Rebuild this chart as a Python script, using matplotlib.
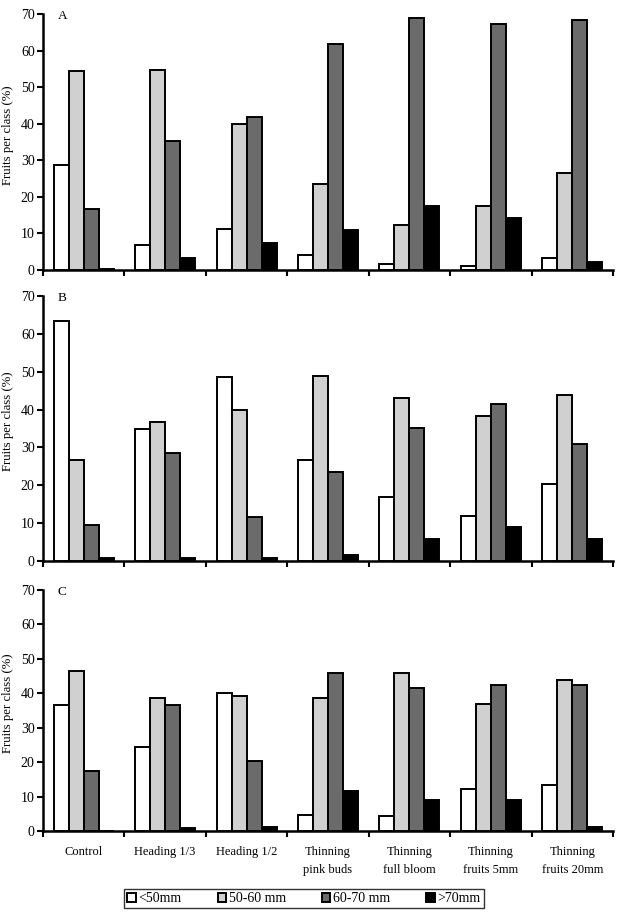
import numpy as np
import matplotlib
matplotlib.use("Agg")
import matplotlib.pyplot as plt
from matplotlib.patches import Patch

plt.rcParams['font.family'] = ['Liberation Serif', 'DejaVu Serif']

treatments = ["Control", "Heading 1/3", "Heading 1/2", "Thinning\npink buds",
              "Thinning\nfull bloom", "Thinning\nfruits 5mm", "Thinning\nfruits 20mm"]
classes = ["<50mm", "50-60 mm", "60-70 mm", ">70mm"]

# fruit percentage per size class, one row per treatment
panel_a = [
    [28.7, 54.5, 16.7, 0.3],
    [6.8, 54.7, 35.3, 3.4],
    [11.3, 39.8, 41.8, 7.3],
    [4.2, 23.5, 61.7, 10.9],
    [1.6, 12.3, 68.8, 17.4],
    [1.2, 17.5, 67.3, 14.2],
    [3.3, 26.4, 68.3, 2.2],
]
panel_b = [
    [63.5, 26.6, 9.5, 0.9],
    [34.9, 36.7, 28.4, 0.8],
    [48.7, 39.9, 11.7, 0.7],
    [26.7, 48.9, 23.6, 1.5],
    [16.8, 43.1, 35.0, 5.8],
    [12.0, 38.3, 41.5, 9.0],
    [20.3, 43.8, 30.8, 5.8],
]
panel_c = [
    [36.6, 46.5, 17.5, 0.0],
    [24.3, 38.6, 36.7, 1.0],
    [40.0, 39.1, 20.4, 1.2],
    [4.6, 38.6, 46.0, 11.5],
    [4.5, 45.8, 41.6, 8.9],
    [12.1, 37.0, 42.5, 9.0],
    [13.4, 43.8, 42.5, 1.1],
]

colors = ["white", "#d0d0d0", "#6b6b6b", "black"]
letters = ["A", "B", "C"]
panels = [panel_a, panel_b, panel_c]

fig = plt.figure(figsize=(6.23, 9.22), dpi=100)
boxes = [
    [0.069, 0.7072, 0.915, 0.2776],
    [0.069, 0.3915, 0.915, 0.2875],
    [0.069, 0.0987, 0.915, 0.2613],
]

bw = 0.184
x = np.arange(len(treatments))
for data, box, letter in zip(panels, boxes, letters):
    ax = fig.add_axes(box)
    data = np.array(data)
    for j in range(4):
        ax.bar(x + 0.5 + (j - 1.5) * bw, data[:, j], width=bw,
               color=colors[j], edgecolor="black", linewidth=1.4, zorder=3)
    ax.set_xlim(0, 7)
    ax.set_ylim(0, 70)
    ax.set_yticks(range(0, 71, 10))
    ax.set_xticks(np.arange(8))
    ax.set_xticklabels([])
    for s in ["top", "right"]:
        ax.spines[s].set_visible(False)
    for s in ["left", "bottom"]:
        ax.spines[s].set_linewidth(1.8)
    ax.tick_params(axis="both", width=1.5, length=4, labelsize=10,
                   direction="out", pad=2)
    ax.text(0.18, 69.5, letter, fontsize=9.5, ha="left", va="center")
    ycen = box[1] + box[3] / 2 + 0.0076
    fig.text(8 / 623, ycen, "Fruits per class (%)", fontsize=9.2,
             rotation=90, ha="center", va="center")

# category labels under the last panel
ax.set_xticks(x + 0.5, minor=True)
ax.set_xticklabels(treatments, minor=True, fontsize=9, linespacing=1.65)
ax.tick_params(axis="x", which="minor", length=0, pad=11)

handles = [Patch(facecolor=c, edgecolor="black", linewidth=1.4) for c in colors]
leg = fig.legend(handles, classes, loc="center", bbox_to_anchor=(0.488, 0.0255),
                 ncol=4, fontsize=10, frameon=True, fancybox=False,
                 handlelength=0.6, handleheight=0.6, handletextpad=0.2,
                 columnspacing=2.6, borderpad=0.25, edgecolor="black")
leg.get_frame().set_linewidth(1.0)

fig.savefig("out.png", dpi=100)
